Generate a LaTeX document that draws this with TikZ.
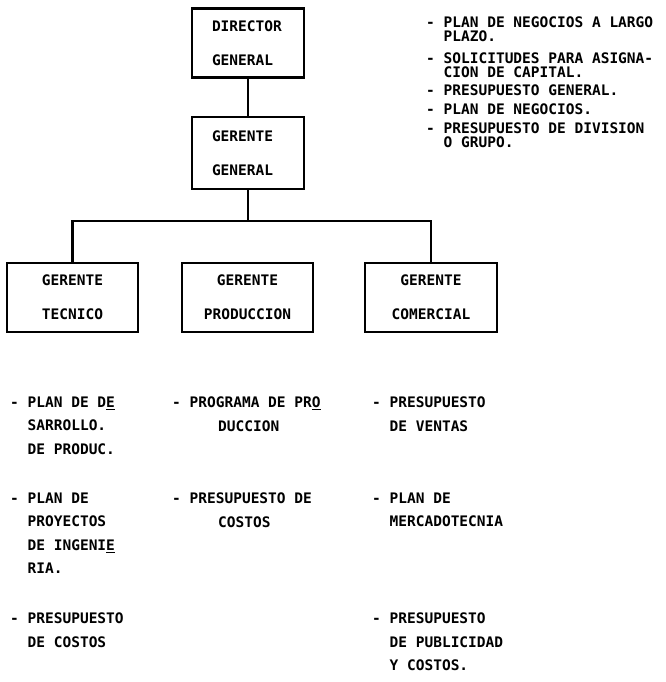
\documentclass[tikz,border=0pt]{standalone}
\usepackage{fontspec}
\newfontfamily\printfont{DejaVu Sans Mono}
\usetikzlibrary{positioning}

\begin{document}
\begin{tikzpicture}[
    x=1pt, y=-1pt,
    box/.style={draw, line width=2.4pt, inner sep=0pt, align=left,
      text width=72pt, minimum width=112pt, minimum height=69pt,
      font=\printfont\bfseries\fontsize{14.5}{34}\selectfont},
    unit/.style={draw, line width=2.4pt, inner sep=0pt, align=center,
      minimum width=131pt, minimum height=69pt,
      font=\printfont\bfseries\fontsize{14.5}{34}\selectfont},
    note/.style={anchor=north west, inner sep=0pt, align=left,
      font=\printfont\bfseries\fontsize{14.5}{23.5}\selectfont},
    aims/.style={note, font=\printfont\bfseries\fontsize{14.5}{13.5}\selectfont},
    link/.style={line width=2.4pt}
  ]
    \useasboundingbox (0,0) rectangle (665,682);
    % organigrama
    \node[box] (dg) at (248,43) {DIRECTOR\\GENERAL};
    \node[box, minimum height=72pt] (gg) at (248,153) {GERENTE\\GENERAL};
    \node[unit] (tec) at (72.5,297.5) {GERENTE\\TECNICO};
    \node[unit] (pro) at (247.5,297.5) {GERENTE\\PRODUCCION};
    \node[unit, minimum width=132pt] (com) at (431,297.5) {GERENTE\\COMERCIAL};
    \coordinate (bus) at (248,221);
    \draw[link] (dg) -- (gg);
    \draw[link] (gg) -- (bus);
    \draw[link] (tec.north) |- (bus) -| (com.north);
    % documentos de la direccion
    \node[aims] (plan) at (426,16.7) {- PLAN DE NEGOCIOS A LARGO\\\phantom{- }PLAZO.\\[9pt]
      - SOLICITUDES PARA ASIGNA-\\\phantom{- }CION DE CAPITAL.\\[5pt]
      - PRESUPUESTO GENERAL.\\[5.5pt]
      - PLAN DE NEGOCIOS.\\[5.5pt]
      - PRESUPUESTO DE DIVISION\\\phantom{- }O GRUPO.};
    % documentos por gerencia
    \node[note] (tec-a) at (10,396.7) {- PLAN DE D\underline{E}\\\phantom{- }SARROLLO.\\\phantom{- }DE PRODUC.};
    \node[note] (tec-b) at (10,492.7) {- PLAN DE\\\phantom{- }PROYECTOS\\\phantom{- }DE INGENI\underline{E}\\\phantom{- }RIA.};
    \node[note] (tec-c) at (10,612.7) {- PRESUPUESTO\\\phantom{- }DE COSTOS};
    \node[note] (pro-a) at (172,396.7) {- PROGRAMA DE PR\underline{O}\\\hspace*{46pt}DUCCION};
    \node[note] (pro-b) at (172,492.7) {- PRESUPUESTO DE\\\hspace*{46pt}COSTOS};
    \node[note] (com-a) at (372,396.7) {- PRESUPUESTO\\\phantom{- }DE VENTAS};
    \node[note] (com-b) at (372,492.7) {- PLAN DE\\\phantom{- }MERCADOTECNIA};
    \node[note] (com-c) at (372,612.7) {- PRESUPUESTO\\\phantom{- }DE PUBLICIDAD\\\phantom{- }Y COSTOS.};
  \end{tikzpicture}
\end{document}
